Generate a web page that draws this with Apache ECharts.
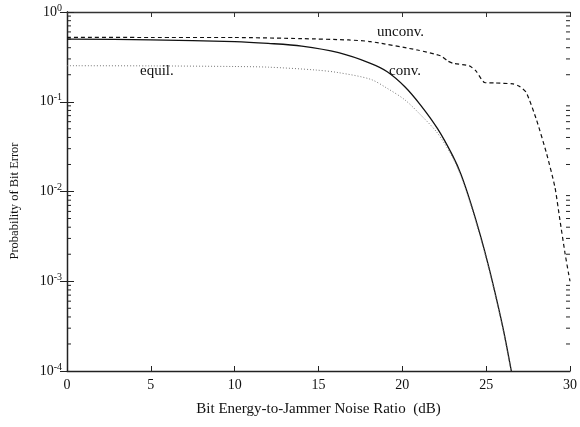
<!DOCTYPE html>
<html>
<head>
<meta charset="utf-8">
<script src="https://cdn.jsdelivr.net/npm/echarts@6/dist/echarts.min.js"></script>
<style>
  html, body { margin: 0; padding: 0; background: #fff; }
  #chart { width: 580px; height: 427px; }
</style>
</head>
<body>
<div id="chart"></div>
<script>
// Eb/NJ in dB and bit error probability
var convX = [0, 5, 10, 12, 14, 16.2, 18.1, 19.1, 20.15, 21.1, 22.1, 23.0, 23.5, 24.1, 24.7, 25.17, 25.67, 26.06, 26.5];
var convY = [0.498, 0.49, 0.468, 0.447, 0.417, 0.352, 0.268, 0.216, 0.147, 0.0912, 0.0501, 0.0251, 0.0155, 0.00724, 0.00302, 0.00141, 0.000575, 0.000269, 0.0001];

var equilX = [0, 5, 10, 12, 14.8, 16.2, 18.1, 19.1, 20.15, 21.1, 22.1, 23.0, 23.5, 24.1, 24.7, 25.17, 25.67, 26.06, 26.48];
var equilY = [0.252, 0.251, 0.247, 0.243, 0.226, 0.211, 0.178, 0.141, 0.105, 0.0711, 0.0447, 0.024, 0.0148, 0.00692, 0.00288, 0.00135, 0.00055, 0.000257, 0.0001];

var unconvX = [0, 5, 10, 14, 16.8, 18.1, 20.9, 22.3, 22.7, 23.0, 24.0, 24.4, 24.9, 25.5, 26.6, 27.0, 27.4, 28.0, 28.6, 29.1, 29.4, 29.7, 29.9, 30];
var unconvY = [0.522, 0.52, 0.52, 0.505, 0.488, 0.468, 0.377, 0.324, 0.285, 0.269, 0.251, 0.219, 0.164, 0.162, 0.158, 0.148, 0.126, 0.063, 0.0266, 0.0112, 0.0048, 0.00207, 0.00126, 0.001];

// minor tick values of the log axis (2..9 per decade)
var minorTicks = [];
[0.0001, 0.001, 0.01, 0.1].forEach(function (d) {
  for (var k = 2; k <= 9; k++) minorTicks.push([0, +(k * d).toPrecision(3)]);
});

function pairs(xs, ys) {
  return xs.map(function (x, i) { return [x, ys[i]]; });
}

var serif = 'Liberation Serif';
var chart = echarts.init(document.getElementById('chart'));

var option = {
  animation: false,
  grid: { left: 67, right: 7, top: 12, bottom: 56 },
  xAxis: [{
    type: 'value', min: 0, max: 30, interval: 5,
    name: 'Bit Energy-to-Jammer Noise Ratio  (dB)',
    nameLocation: 'middle', nameGap: 31,
    nameTextStyle: { fontFamily: serif, fontSize: 15, color: '#111' },
    axisLine: { lineStyle: { color: '#222', width: 1.3 } },
    axisTick: { inside: true, length: 5, lineStyle: { color: '#222' } },
    axisLabel: { fontFamily: serif, fontSize: 14, color: '#111', margin: 7 },
    splitLine: { show: false }
  }, {
    type: 'value', min: 0, max: 30, interval: 5, position: 'top',
    axisLine: { lineStyle: { color: '#333', width: 1.3 } },
    axisTick: { inside: true, length: 5, lineStyle: { color: '#333' } },
    axisLabel: { show: false },
    splitLine: { show: false }
  }],
  yAxis: [{
    type: 'log', logBase: 10, min: 0.0001, max: 1,
    axisLine: { lineStyle: { color: '#555', width: 1.3 } },
    axisTick: { inside: true, length: 7, lineStyle: { color: '#222' } },
    axisLabel: {
      margin: 5,
      formatter: function (v) {
        return '{b|10}{s|' + Math.round(Math.log10(v)) + '}';
      },
      rich: {
        b: { fontFamily: serif, fontSize: 14, color: '#111', verticalAlign: 'middle' },
        s: { fontFamily: serif, fontSize: 10, color: '#111', verticalAlign: 'middle', padding: [0, 0, 8, 0] }
      }
    },
    splitLine: { show: false }
  }, {
    type: 'log', logBase: 10, min: 0.0001, max: 1, position: 'right',
    axisLine: { lineStyle: { color: '#222', width: 1.3 } },
    axisTick: { inside: true, length: 7, lineStyle: { color: '#222' } },
    axisLabel: { show: false },
    splitLine: { show: false }
  }],
  series: [{
    name: 'unconv.', type: 'line', data: pairs(unconvX, unconvY),
    showSymbol: false, smooth: 0.2,
    lineStyle: { color: '#111', width: 1.2, type: [4, 3] }
  }, {
    name: 'conv.', type: 'line', data: pairs(convX, convY),
    showSymbol: false, smooth: 0.3,
    lineStyle: { color: '#111', width: 1.3 }
  }, {
    name: 'equil.', type: 'line', data: pairs(equilX, equilY),
    showSymbol: false, smooth: 0.3,
    lineStyle: { color: '#777', width: 1, type: [1, 2] }
  }, {
    type: 'custom', silent: true, data: minorTicks,
    renderItem: function (params, api) {
      var v = api.value(1);
      var l = api.coord([0, v]);
      var r = api.coord([30, v]);
      return {
        type: 'group',
        children: [
          { type: 'line', shape: { x1: l[0], y1: l[1], x2: l[0] + 4, y2: l[1] }, style: { stroke: '#222', lineWidth: 1 } },
          { type: 'line', shape: { x1: r[0] - 4, y1: r[1], x2: r[0], y2: r[1] }, style: { stroke: '#222', lineWidth: 1 } }
        ]
      };
    }
  }],
  graphic: [
    { type: 'text', x: 15, y: 201, rotation: Math.PI / 2,
      style: { text: 'Probability of Bit Error', font: '12.5px "Liberation Serif"', fill: '#111', align: 'center', verticalAlign: 'middle' } },
    { type: 'text', left: 377, top: 25, style: { text: 'unconv.', font: '15px "Liberation Serif"', fill: '#111' } },
    { type: 'text', left: 389, top: 64, style: { text: 'conv.', font: '15px "Liberation Serif"', fill: '#111' } },
    { type: 'text', left: 140, top: 64, style: { text: 'equil.', font: '15px "Liberation Serif"', fill: '#111' } }
  ]
};

chart.setOption(option);
</script>
</body>
</html>
